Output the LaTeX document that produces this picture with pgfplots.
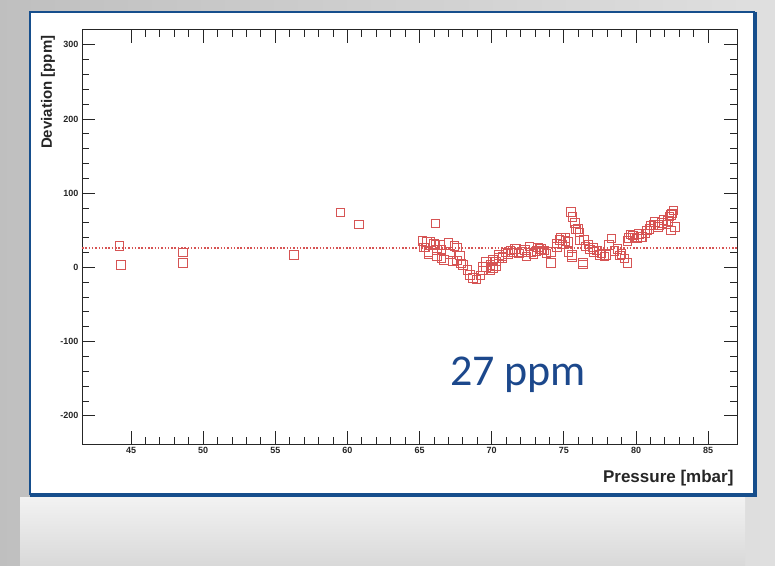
\documentclass[border=0pt]{standalone}
\usepackage{fontspec}
\setmainfont{Liberation Sans}
\newfontfamily\calibri{Carlito}
\usepackage{pgfplots}
\pgfplotsset{compat=1.18}
\definecolor{ptred}{RGB}{214,84,84}
\definecolor{frameblue}{RGB}{22,78,140}
\definecolor{txtblue}{RGB}{28,72,140}
\begin{document}
\begin{tikzpicture}[x=1pt,y=1pt]
\shade[left color=gray!50, right color=gray!25] (0,0) rectangle (775,565);
\shade[top color=gray!10, bottom color=gray!30] (20,0) rectangle (745,68);
\fill[white] (30,70) rectangle (755,553);
\draw[frameblue, line width=1.5pt] (30,70) -- (30,553) -- (755,553);
\draw[frameblue, line width=4pt] (30,70) -- (755,70) -- (755,553);
\begin{axis}[at={(82pt,121pt)}, anchor=south west, scale only axis,
  width=655pt, height=414pt,
  xmin=41.6, xmax=87, ymin=-238, ymax=320,
  xtick={45,50,...,85}, ytick={-200,-100,...,300},
  minor x tick num=4, minor y tick num=4,
  tick align=inside, major tick length=13pt, minor tick length=7pt,
  axis line style={line width=1pt, black!85},
  every tick/.style={black!85, line width=0.9pt},
  ticklabel style={font=\bfseries\fontsize{9}{10}\selectfont, black!85},
  /pgf/number format/assume math mode=true,
  clip=true]
\addplot[ptred, line width=1.7pt, dash pattern=on 1.5pt off 1.8pt] coordinates {(41.6,26) (87,26)};
\addplot[only marks, mark=square, mark size=4.3pt, draw=ptred, mark options={draw=ptred, solid, line width=0.8pt}] table {
x y
44.2 29
44.3 3.5
48.6 20
48.6 6
56.3 17
59.5 74
60.8 58
66.1 59.5
65.2 36
65.4 27
65.75 34
65.6 18
66.1 30
66.2 15
66.5 24
66.7 10
67.0 33
67.1 18
67.3 9
67.6 27
67.8 16
68.0 3
68.3 -3
68.5 -10
68.7 -14
68.95 -16
69.2 -11
69.4 -4
69.6 1
69.9 3
70.1 -1
70.3 8
70.5 13
70.75 15
71.1 18
71.4 20
71.7 25
72.1 21
72.4 15
72.7 20
73.1 22
73.4 25
73.8 19
74.1 21
74.5 28
74.7 37
74.9 31
75.1 40
75.3 34
75.5 75
75.6 68
75.75 60
75.96 52
76.07 47
76.3 4
75.55 17
76.4 37
76.7 31
77.0 27
77.3 23
77.6 19
77.9 17
78.3 39
78.5 22
78.9 16
79.2 12
79.4 6
79.5 40
79.8 43
80.06 39
80.35 41
80.65 46
80.94 52
81.2 57
81.5 55
81.8 60
82.1 58
82.3 69
82.5 73
82.6 77
82.4 50
65.3 27
65.6 21
65.5 34
66.0 32
66.2 23.5
66.5 12.7
66.4 30.5
67.4 29.4
67.6 9.5
67.85 5.2
69.4 0.4
69.6 7.4
69.9 -3.5
70.1 10
70.3 1.5
70.5 17.2
70.75 13
70.95 20
71.3 22.7
71.6 25
71.9 19
72.3 23.5
72.6 28.4
72.9 17.9
73.3 24.6
74.1 6
73.2 26.8
73.6 23
74.5 32.6
74.8 39.4
75.1 35.8
75.3 20.6
75.55 14.4
75.85 51.5
76.07 36.6
76.3 6.7
76.5 28.4
76.8 24.5
77.1 20.6
77.5 16.7
77.8 15
78.1 30.3
78.7 24.6
79.0 18.5
79.4 35.9
79.6 44.6
79.9 40.7
80.2 45.2
80.45 41.3
80.75 50.1
81.05 56.9
81.3 61.4
81.6 57.5
81.9 64.1
82.2 62.3
82.4 70.8
82.7 54.3
};
\end{axis}
\node[rotate=90, anchor=east, font=\bfseries\fontsize{15}{17}\selectfont, black!85] at (48,533) {Deviation [ppm]};
\node[anchor=north east, font=\bfseries\fontsize{17}{19}\selectfont, black!85] at (737,98) {Pressure [mbar]};
\node[txtblue, font=\calibri\fontsize{44}{48}\selectfont] at (518,190) {27 ppm};
\end{tikzpicture}
\end{document}
